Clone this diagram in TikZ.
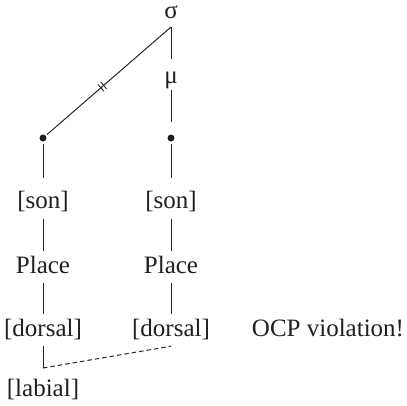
\documentclass[tikz,border=0pt]{standalone}
\usepackage{fontspec}
\setmainfont{Liberation Serif}
\usetikzlibrary{decorations.markings}
\begin{document}
\begin{tikzpicture}[x=1bp,y=-1bp,
  lbl/.style={font=\fontsize{25bp}{30bp}\selectfont, inner xsep=0pt, inner ysep=5bp, text height=17bp, text depth=5bp, text=black!88, anchor=base},
  greek/.style={font=\fontsize{25bp}{30bp}\selectfont, inner sep=0pt, text=black!88, anchor=base},
  edge/.style={draw=black!85, line width=1bp},
  dotnode/.style={circle, fill=black!88, inner sep=0pt, minimum size=7bp, outer sep=2bp},
  hashed/.style={postaction={decorate}, decoration={markings, mark=at position 0.445 with {\draw[black!85, line width=0.9bp] (-1.8bp,-4.5bp)--(-1.8bp,4.5bp) (1.8bp,-4.5bp)--(1.8bp,4.5bp);}}}
]
\useasboundingbox (0,0) rectangle (407,406);
\node[greek] (sigma) at (171,18.5) {σ};
\coordinate (sfoot) at (171,27);
\node[greek, text height=12bp, text depth=5.5bp] (mu) at (171,83) {μ};
\node[dotnode] (dotL) at (43,138) {};
\node[dotnode] (dotR) at (171,138) {};
\node[lbl] (sonL) at (43,208.5) {[son]};
\node[lbl] (sonR) at (171,208.5) {[son]};
\node[lbl] (placeL) at (43,273) {Place};
\node[lbl] (placeR) at (171,273) {Place};
\node[lbl] (dorL) at (43,336) {[dorsal]};
\node[lbl] (dorR) at (171,336) {[dorsal]};
\coordinate (corner) at (43,368);
\node[lbl] (lab) at (43,396) {[labial]};
\node[lbl] (ocp) at (328,336) {OCP violation!};

\draw[edge, hashed] (dotL) -- (sfoot);
\draw[edge, shorten >=12bp] (sfoot) -- (mu.north);
\draw[edge, shorten <=1.5bp, shorten >=11bp] (mu.south) -- (dotR);
\draw[edge, shorten >=8.5bp] (dotL) -- (sonL.north);
\draw[edge, shorten >=8.5bp] (dotR) -- (sonR.north);
\draw[edge] (sonL) -- (placeL);
\draw[edge] (sonR) -- (placeR);
\draw[edge] (placeL) -- (dorL);
\draw[edge] (placeR) -- (dorR);
\draw[edge] (dorL) -- (corner);
\draw[edge, dashed, dash pattern=on 4.5bp off 3bp] (corner) -- (dorR.south);
\end{tikzpicture}
\end{document}
